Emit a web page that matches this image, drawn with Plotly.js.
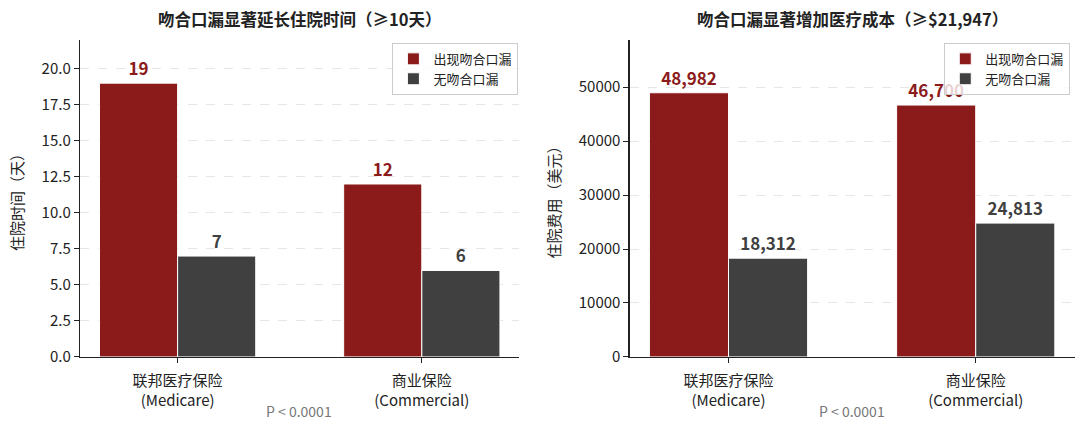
<!DOCTYPE html>
<html>
<head>
<meta charset="utf-8">
<script src="https://cdn.plot.ly/plotly-3.0.1.min.js"></script>
<style>
  html, body { margin: 0; padding: 0; background: #fff; }
  #chart { width: 1080px; height: 429px; }
</style>
</head>
<body>
<div id="chart"></div>
<script>
// ── data ──
const categories = ["联邦医疗保险<br>(Medicare)", "商业保险<br>(Commercial)"];
const seriesNames = ["出现吻合口漏", "无吻合口漏"];
const stayLeak = [19, 12];
const stayNoLeak = [7, 6];
const costLeak = [48982, 46700];
const costNoLeak = [18312, 24813];

const RED = "#8b1a1a", DARK = "#404040";
const FONT = "Noto Sans CJK SC, Noto Sans, sans-serif";
const W = 0.32;

function bar(x, y, name, color, offset, xa, ya, legend, fmt) {
  return {
    type: "bar", x, y, name, xaxis: xa, yaxis: ya, legend,
    width: W, offset,
    marker: { color, line: { color: "#ffffff", width: 1 } },
    text: y.map(fmt), textposition: "outside", cliponaxis: false,
    textfont: { family: FONT, size: 17, color, weight: "bold" },
    hoverinfo: "skip"
  };
}

const int = v => String(v);
const comma = v => v.toLocaleString("en-US");

const traces = [
  bar(categories, stayLeak, seriesNames[0], RED, -W, "x", "y", "legend", int),
  bar(categories, stayNoLeak, seriesNames[1], DARK, 0, "x", "y", "legend", int),
  bar(categories, costLeak, seriesNames[0], RED, -W, "x2", "y2", "legend2", comma),
  bar(categories, costNoLeak, seriesNames[1], DARK, 0, "x2", "y2", "legend2", comma)
];

const yDom = [0.168, 0.907];
const axX = {
  type: "category", range: [-0.40, 1.40], showline: true, linecolor: "#222", linewidth: 1.2,
  ticks: "outside", ticklen: 5, tickcolor: "#222", showgrid: false, zeroline: false,
  ticklabelstandoff: 5,
  tickfont: { family: FONT, size: 15, color: "#222" }
};
const axY = {
  showline: true, linecolor: "#222", linewidth: 1.2, ticks: "outside", ticklen: 5, tickcolor: "#222",
  gridcolor: "#e6e6e6", griddash: "dash", gridwidth: 1, zeroline: false,
  tickfont: { family: FONT, size: 15, color: "#222" }
};
const leg = {
  xanchor: "right", yanchor: "top", y: 0.90,
  bgcolor: "rgba(255,255,255,0.8)", bordercolor: "#cccccc", borderwidth: 1,
  font: { family: FONT, size: 13, color: "#222" }, traceorder: "normal"
};

function note(text, x, y, size, color) {
  return { text, xref: "paper", yref: "paper", x, y, xanchor: "center", yanchor: "middle",
    showarrow: false, font: { family: FONT, size, color } };
}

const layout = {
  width: 1080, height: 429,
  margin: { l: 0, r: 0, t: 0, b: 0 },
  paper_bgcolor: "#fff", plot_bgcolor: "#fff",
  font: { family: FONT },
  barmode: "overlay",
  showlegend: true,
  xaxis: { ...axX, domain: [0.074, 0.481], anchor: "y" },
  yaxis: {
    ...axY, domain: yDom, anchor: "x", range: [0, 22], dtick: 2.5, tickformat: ".1f",
    title: { text: "住院时间（天）", font: { family: FONT, size: 15, color: "#222" }, standoff: 14 }
  },
  xaxis2: { ...axX, domain: [0.583, 0.995], anchor: "y2" },
  yaxis2: {
    ...axY, domain: yDom, anchor: "x2", range: [0, 58778], dtick: 10000, tickformat: "d",
    title: { text: "住院费用（美元）", font: { family: FONT, size: 15, color: "#222" }, standoff: 14 }
  },
  legend: { ...leg, x: 0.480 },
  legend2: { ...leg, x: 0.991 },
  annotations: [
    note("<b>吻合口漏显著延长住院时间（≥10天）</b>", 0.277, 0.955, 16.5, "#222"),
    note("<b>吻合口漏显著增加医疗成本（≥$21,947）</b>", 0.789, 0.955, 16.5, "#222"),
    note("P < 0.0001", 0.277, 0.042, 14, "#777"),
    note("P < 0.0001", 0.789, 0.042, 14, "#777")
  ]
};

Plotly.newPlot("chart", traces, layout, { displayModeBar: false, staticPlot: true });
</script>
</body>
</html>
